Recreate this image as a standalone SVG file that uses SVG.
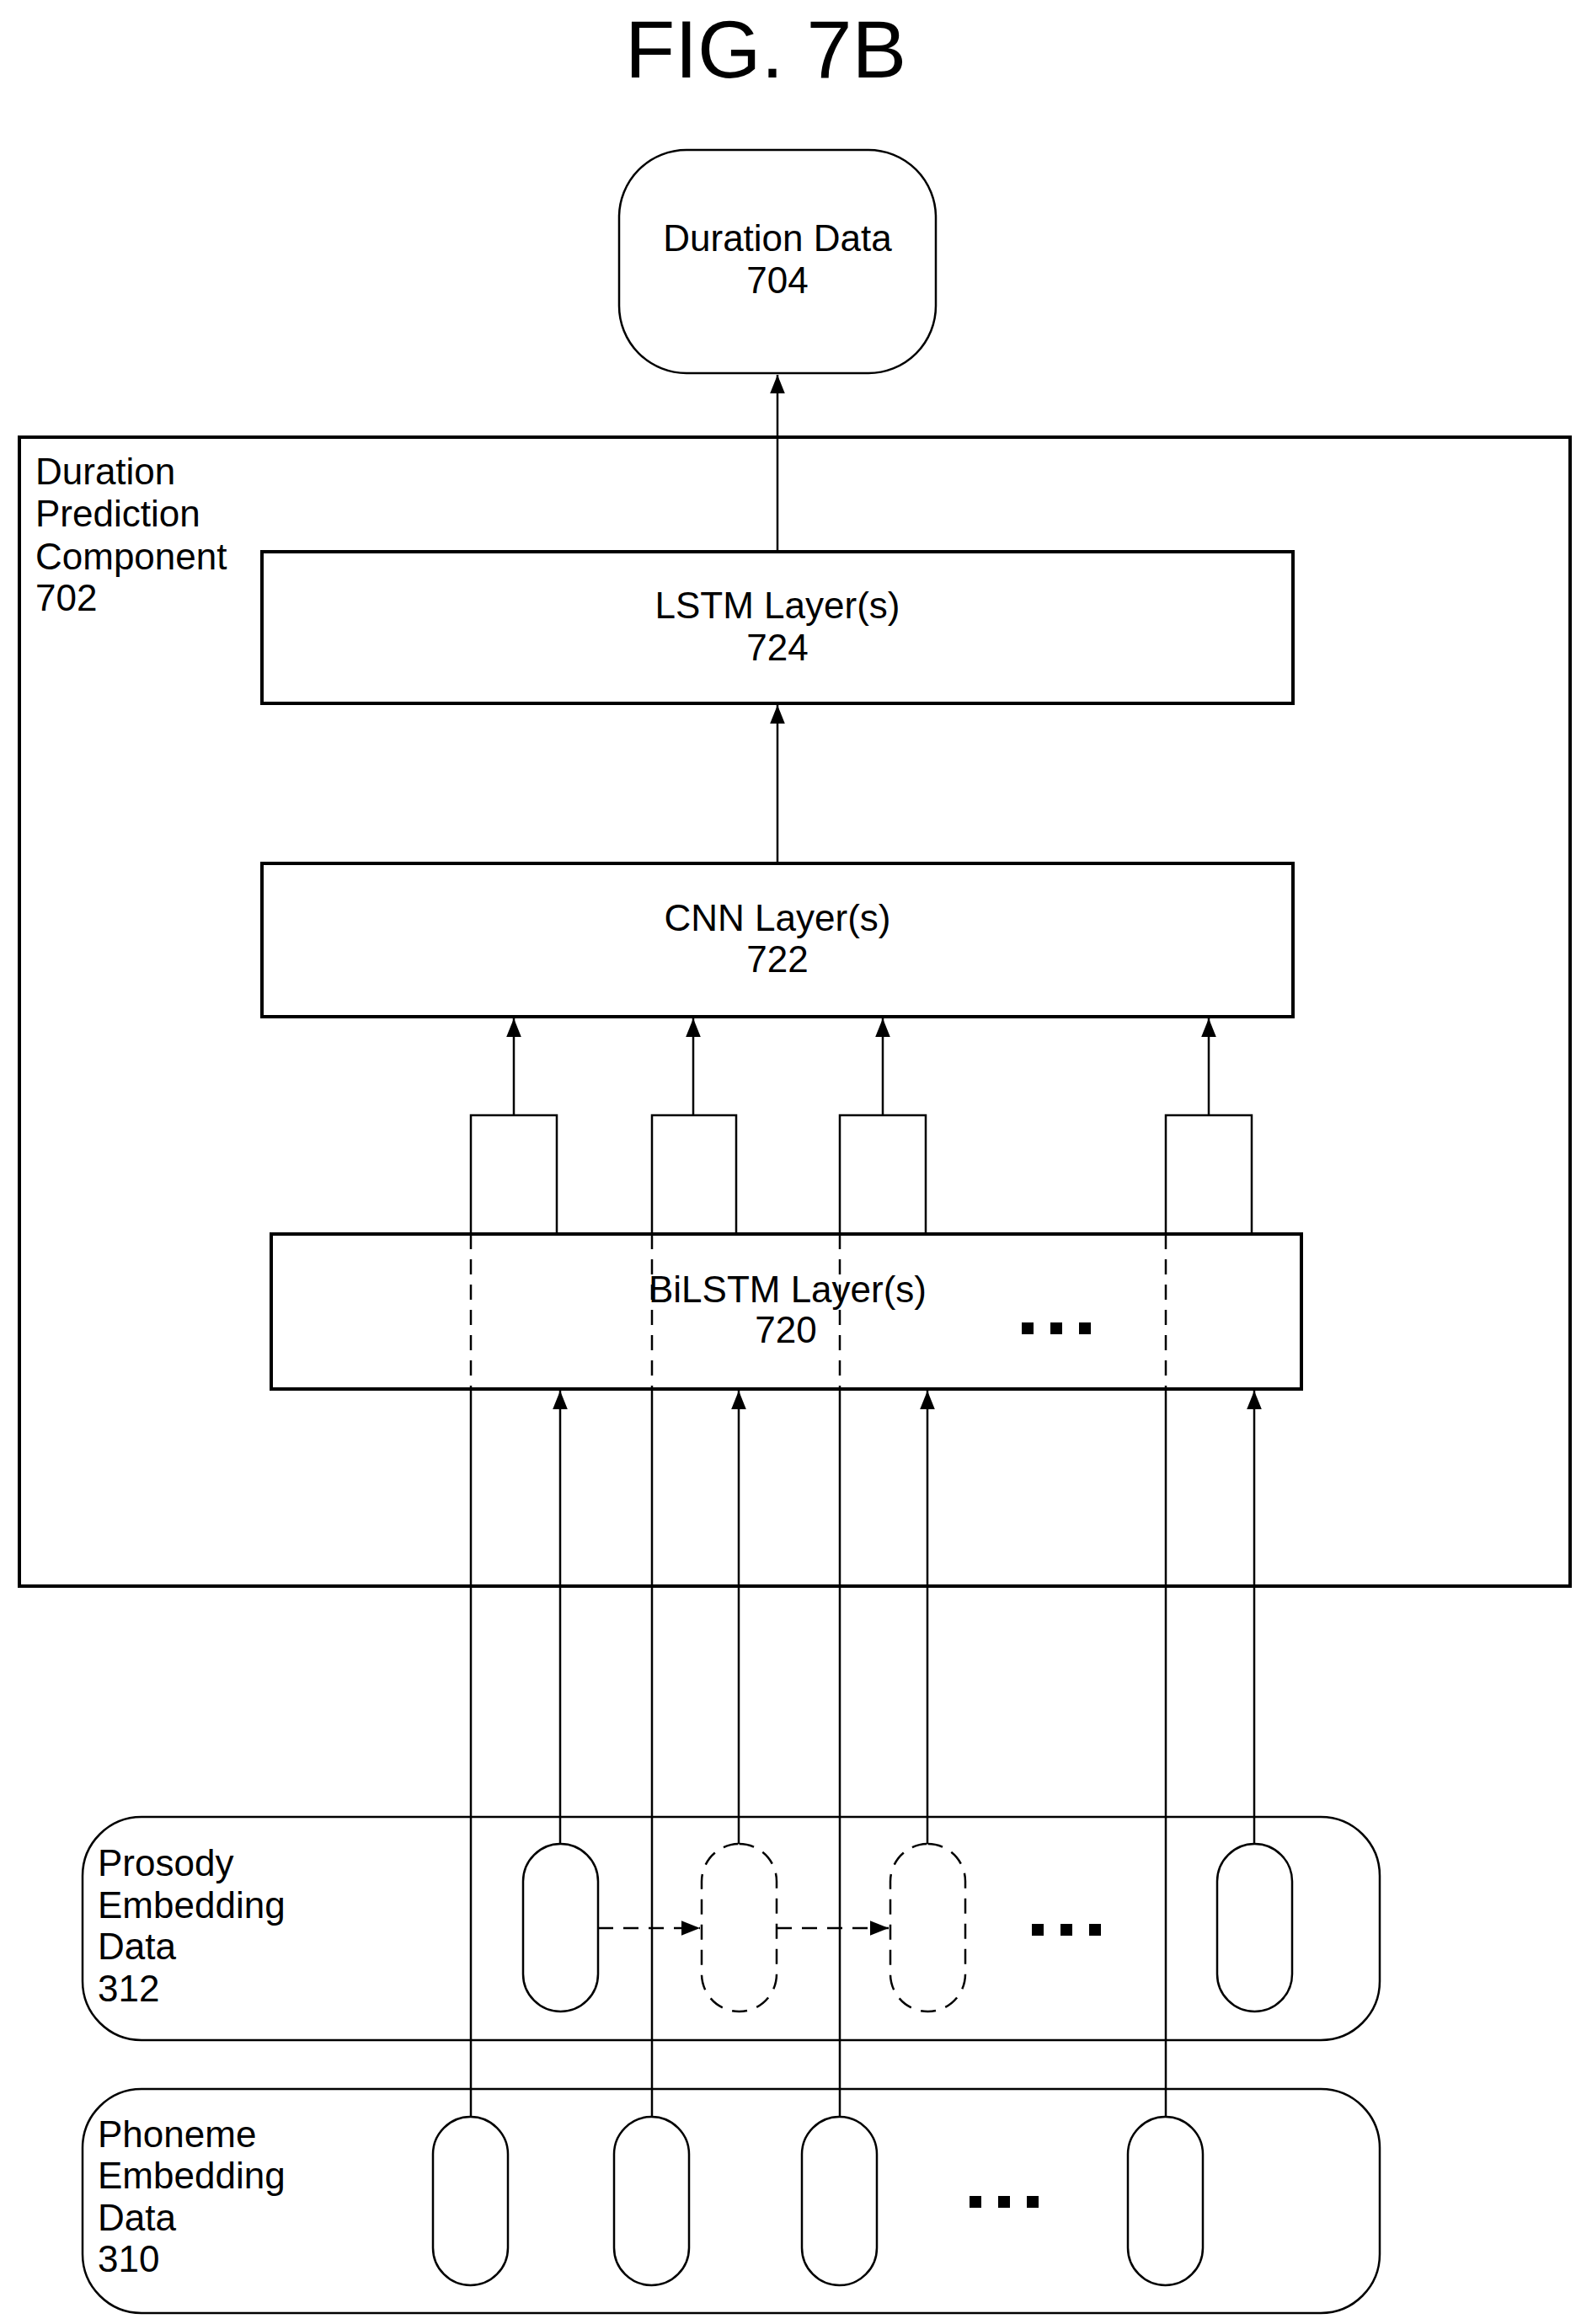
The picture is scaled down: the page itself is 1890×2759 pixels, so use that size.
<svg xmlns="http://www.w3.org/2000/svg" width="1890" height="2759" viewBox="0 0 1890 2759">
<style>
text{font-family:"Liberation Sans",Arial,sans-serif;font-size:44px;fill:#000}
.c{text-anchor:middle}
.b{fill:none;stroke:#000;stroke-width:4}
.l{fill:none;stroke:#000;stroke-width:2.5}
.d{fill:none;stroke:#000;stroke-width:2.5;stroke-dasharray:18 12}
</style>
<defs>
<marker id="a" viewBox="0 0 10 10" refX="10" refY="5" markerWidth="10" markerHeight="10" markerUnits="userSpaceOnUse" orient="auto"><path d="M0,0L10,5L0,10z"/></marker>
<marker id="ah" viewBox="0 0 10 10" refX="10" refY="5" markerWidth="22" markerHeight="22" markerUnits="userSpaceOnUse" orient="auto"><path d="M0,1L10,5L0,9z"/></marker>
</defs>
<text x="909" y="92" class="c" style="font-size:97px">FIG. 7B</text>
<g id="duration-data"><rect class="l" x="735" y="178" width="376" height="265" rx="80"/><text x="923" y="298" class="c">Duration Data</text><text x="923" y="348" class="c">704</text></g>
<g id="component"><rect class="b" x="23" y="519" width="1841" height="1364"/><text x="42" y="575">Duration</text><text x="42" y="625">Prediction</text><text x="42" y="676">Component</text><text x="42" y="725">702</text></g>
<g id="lstm"><rect class="b" x="311" y="655" width="1224" height="180" fill="#fff"/><text x="923" y="734" class="c">LSTM Layer(s)</text><text x="923" y="784" class="c">724</text></g>
<g id="cnn"><rect class="b" x="311" y="1025" width="1224" height="182"/><text x="923" y="1105" class="c">CNN Layer(s)</text><text x="923" y="1154" class="c">722</text></g>
<g id="bilstm"><rect class="b" x="322" y="1465" width="1223" height="184"/><text x="935" y="1546" class="c">BiLSTM Layer(s)</text><text x="933" y="1594" class="c">720</text>
<rect x="1213" y="1570" width="14" height="14"/><rect x="1247" y="1570" width="14" height="14"/><rect x="1281" y="1570" width="14" height="14"/></g>
<g id="prosody"><rect class="l" x="98" y="2157" width="1540" height="265" rx="70"/><text x="116" y="2227">Prosody</text><text x="116" y="2277">Embedding</text><text x="116" y="2326">Data</text><text x="116" y="2376">312</text>
<rect class="l" x="621" y="2189" width="89" height="199" rx="44.5"/><rect class="d" x="833" y="2189" width="89" height="199" rx="44.5"/><rect class="d" x="1057" y="2189" width="89" height="199" rx="44.5"/><rect class="l" x="1445" y="2189" width="89" height="199" rx="44.5"/>
<rect x="1225" y="2284" width="14" height="14"/><rect x="1259" y="2284" width="14" height="14"/><rect x="1293" y="2284" width="14" height="14"/></g>
<g id="phoneme"><rect class="l" x="98" y="2480" width="1540" height="266" rx="70"/><text x="116" y="2549">Phoneme</text><text x="116" y="2598">Embedding</text><text x="116" y="2648">Data</text><text x="116" y="2697">310</text>
<rect class="l" x="514" y="2513" width="89" height="200" rx="44.5"/><rect class="l" x="729" y="2513" width="89" height="200" rx="44.5"/><rect class="l" x="952" y="2513" width="89" height="200" rx="44.5"/><rect class="l" x="1339" y="2513" width="89" height="200" rx="44.5"/>
<rect x="1151" y="2607" width="14" height="14"/><rect x="1185" y="2607" width="14" height="14"/><rect x="1219" y="2607" width="14" height="14"/></g>
<g id="connectors">
<line class="l" x1="923" y1="655" x2="923" y2="445" marker-end="url(#ah)"/>
<line class="l" x1="923" y1="1025" x2="923" y2="837" marker-end="url(#ah)"/>
<line class="l" x1="610" y1="1324" x2="610" y2="1209" marker-end="url(#ah)"/>
<line class="l" x1="823" y1="1324" x2="823" y2="1209" marker-end="url(#ah)"/>
<line class="l" x1="1048" y1="1324" x2="1048" y2="1209" marker-end="url(#ah)"/>
<line class="l" x1="1435" y1="1324" x2="1435" y2="1209" marker-end="url(#ah)"/>
<path class="l" d="M559,2513V1649M559,1465V1324H661V1465"/><path class="d" d="M559,1465V1649"/>
<path class="l" d="M774,2513V1649M774,1465V1324H874V1465"/><path class="d" d="M774,1465V1649"/>
<path class="l" d="M997,2513V1649M997,1465V1324H1099V1465"/><path class="d" d="M997,1465V1649"/>
<path class="l" d="M1384,2513V1649M1384,1465V1324H1486V1465"/><path class="d" d="M1384,1465V1649"/>
<line class="l" x1="665" y1="2189" x2="665" y2="1651" marker-end="url(#ah)"/>
<line class="l" x1="877" y1="2189" x2="877" y2="1651" marker-end="url(#ah)"/>
<line class="l" x1="1101" y1="2189" x2="1101" y2="1651" marker-end="url(#ah)"/>
<line class="l" x1="1489" y1="2189" x2="1489" y2="1651" marker-end="url(#ah)"/>
<line class="d" x1="710" y1="2289" x2="831" y2="2289" marker-end="url(#ah)"/>
<line class="d" x1="922" y1="2289" x2="1055" y2="2289" marker-end="url(#ah)"/>
</g>
</svg>
